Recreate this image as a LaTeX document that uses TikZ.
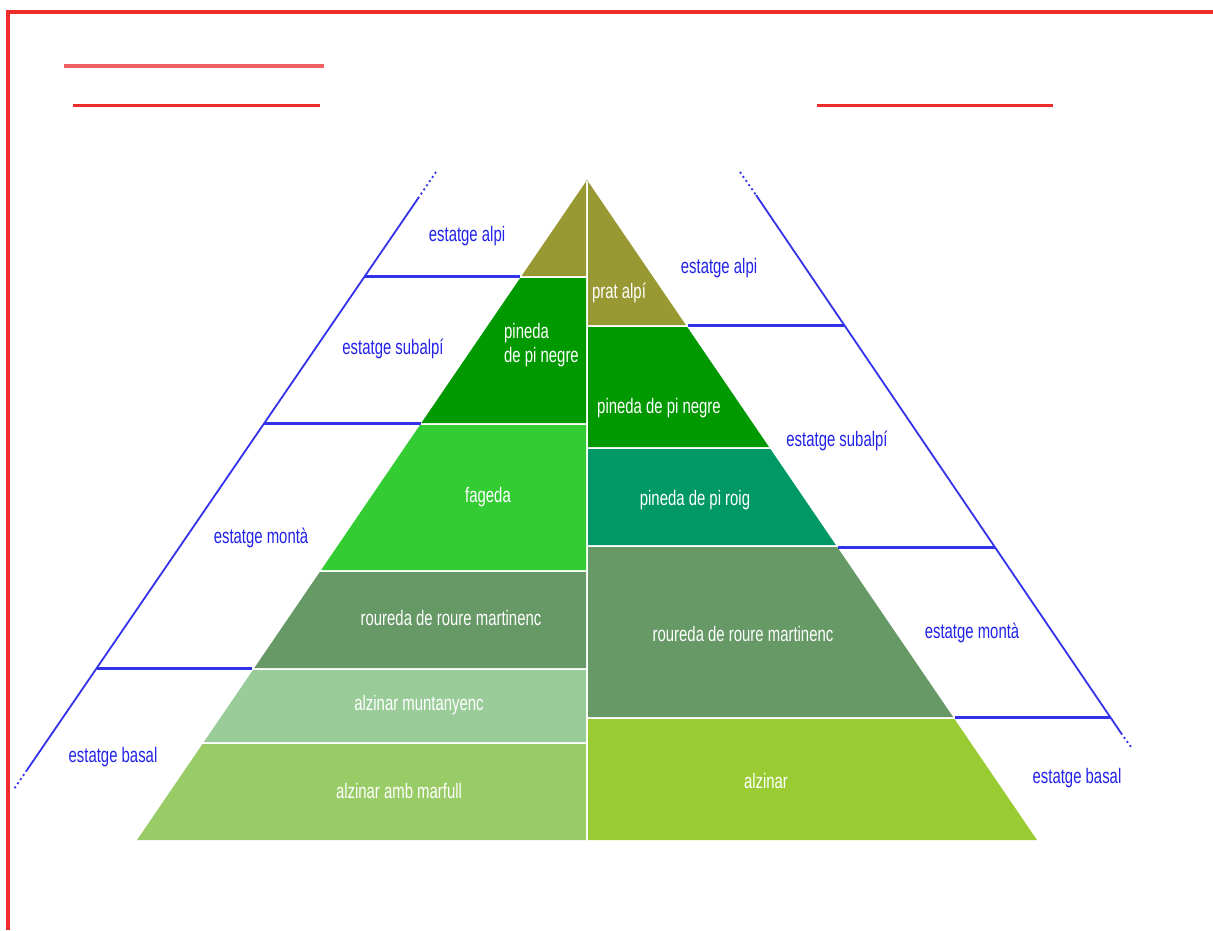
\documentclass[tikz,border=0pt]{standalone}
\usepackage{fontspec}
\newfontfamily\pyrfont[FakeStretch=0.71]{Liberation Sans}
\definecolor{redline}{RGB}{238,44,44}
\definecolor{redsoft}{RGB}{240,96,96}
\definecolor{blueline}{RGB}{50,50,235}
\definecolor{bluetext}{RGB}{34,34,232}
\definecolor{olive}{RGB}{153,153,51}
\definecolor{darkgreen}{RGB}{0,153,0}
\definecolor{lightgreen}{RGB}{51,204,51}
\definecolor{greygreen}{RGB}{102,153,102}
\definecolor{palegreen}{RGB}{153,204,153}
\definecolor{leafgreen}{RGB}{153,204,102}
\definecolor{tealgreen}{RGB}{0,153,102}
\definecolor{limegreen}{RGB}{153,204,51}
\usetikzlibrary{calc}
\tikzset{
  % frame
	cstborder/.style   ={line width=3.3pt, draw=redline},
	csttitle/.style    ={line width=4.5pt, draw=redsoft},
	cstrule/.style     ={line width=3pt, draw=redline},
  % lines
	cstslope/.style    ={line width=1.8pt, draw=blueline},
	cstdots/.style     ={line width=1.8pt, draw=blueline, dash pattern=on 2pt off 3pt},
	cstlevel/.style    ={line width=3pt, draw=blueline},
  % text
	cstlabel/.style    ={text=bluetext, font=\pyrfont\fontsize{21}{24}\selectfont, inner sep=0pt},
	cstband/.style     ={text=white, font=\pyrfont\fontsize{21}{24}\selectfont, inner sep=0pt}
}
\begin{document}
\begin{tikzpicture}[x=1pt,y=-1pt]
	\useasboundingbox (0,0) rectangle (1213,930);
	\def\k{0.6818}
	% red frame and title rules
	\draw[cstborder] (8,930) -- (8,12) -- (1213,12);
	\draw[csttitle] (64,66) -- (324,66);
	\draw[cstrule] (73,105) -- (320,105);
	\draw[cstrule] (817,105) -- (1053,105);
	% left half
	\foreach \ya/\yb/\col in {180/276/olive,278/423/darkgreen,425/570/lightgreen,
		572/668/greygreen,670/742/palegreen,744/840/leafgreen}
		\fill[\col] ({587-(\ya-180)*\k},\ya) -- (586,\ya) -- (586,\yb)
			-- ({587-(\yb-180)*\k},\yb) -- cycle;
	% right half
	\foreach \ya/\yb/\col in {180/325/olive,327/447/darkgreen,449/545/tealgreen,
		547/717/greygreen,719/840/limegreen}
		\fill[\col] ({587+(\ya-180)*\k},\ya) -- (588,\ya) -- (588,\yb)
			-- ({587+(\yb-180)*\k},\yb) -- cycle;
	% outer slopes
	\coordinate (lt) at (436,172);
	\coordinate (lu) at (419,197);
	\coordinate (ld) at (27,770);
	\coordinate (lb) at (14,789);
	\coordinate (rt) at (740,172);
	\coordinate (ru) at (756,195);
	\coordinate (rd) at (1121,733);
	\coordinate (rb) at (1131,747);
	\draw[cstdots] (lt) -- (lu);
	\draw[cstslope] (lu) -- (ld);
	\draw[cstdots] (ld) -- (lb);
	\draw[cstdots] (rt) -- (ru);
	\draw[cstslope] (ru) -- (rd);
	\draw[cstdots] (rd) -- (rb);
	% level lines
	\coordinate (l1a) at (365,276); \coordinate (l1b) at (520,276);
	\coordinate (l2a) at (264,423); \coordinate (l2b) at (421,423);
	\coordinate (l3a) at (97,668);  \coordinate (l3b) at (252,668);
	\coordinate (r1a) at (688,325); \coordinate (r1b) at (844,325);
	\coordinate (r2a) at (838,547); \coordinate (r2b) at (995,547);
	\coordinate (r3a) at (955,717); \coordinate (r3b) at (1111,717);
	\draw[cstlevel] (l1a) -- (l1b);
	\draw[cstlevel] (l2a) -- (l2b);
	\draw[cstlevel] (l3a) -- (l3b);
	\draw[cstlevel] (r1a) -- (r1b);
	\draw[cstlevel] (r2a) -- (r2b);
	\draw[cstlevel] (r3a) -- (r3b);
	% level names
	\node[cstlabel] (alpiL)    at (467,236) {estatge alpi};
	\node[cstlabel] (subalpiL) at (393,349) {estatge subalpí};
	\node[cstlabel] (montaL)   at (261,538) {estatge montà};
	\node[cstlabel] (basalL)   at (113,757) {estatge basal};
	\node[cstlabel] (alpiR)    at (719,268) {estatge alpi};
	\node[cstlabel] (subalpiR) at (837,441) {estatge subalpí};
	\node[cstlabel] (montaR)   at (972,633) {estatge montà};
	\node[cstlabel] (basalR)   at (1077,778) {estatge basal};
	% vegetation
	\node[cstband,anchor=west,align=left] (negreL) at (504,345) {pineda\\de pi negre};
	\node[cstband] (fageda)  at (488,497) {fageda};
	\node[cstband] (roureL)  at (451,618) {roureda de roure martinenc};
	\node[cstband] (muntan)  at (419,705) {alzinar muntanyenc};
	\node[cstband] (marfull) at (399,791) {alzinar amb marfull};
	\node[cstband] (prat)    at (619,293) {prat alpí};
	\node[cstband] (negreR)  at (659,408) {pineda de pi negre};
	\node[cstband] (roig)    at (695,500) {pineda de pi roig};
	\node[cstband] (roureR)  at (743,634) {roureda de roure martinenc};
	\node[cstband] (alzinar) at (766,781) {alzinar};
\end{tikzpicture}
\end{document}
